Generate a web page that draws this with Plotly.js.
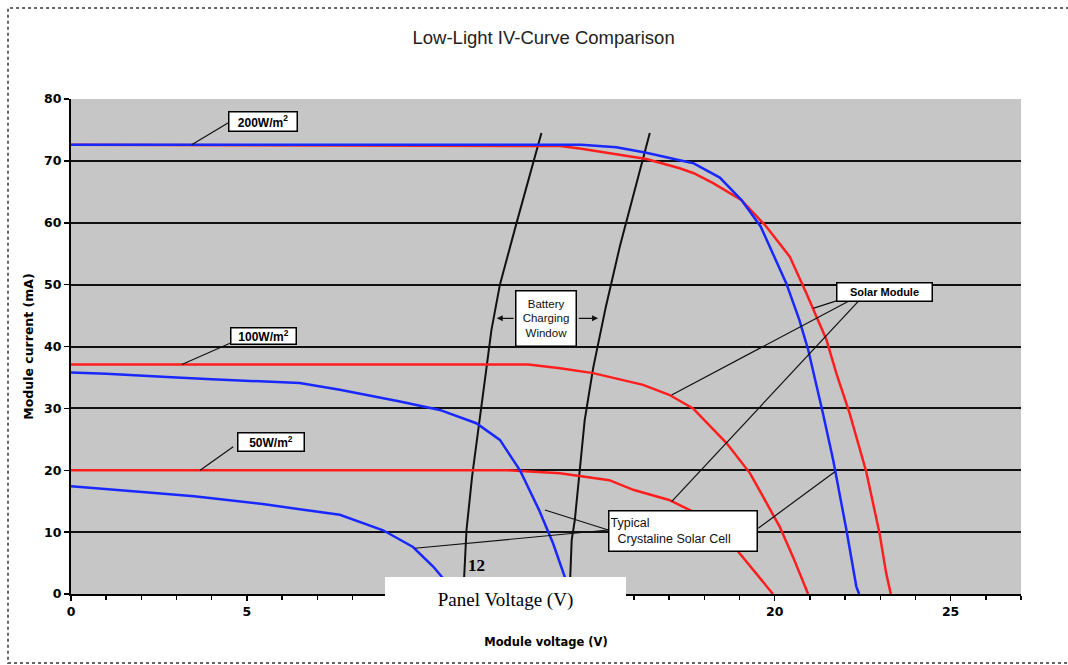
<!DOCTYPE html>
<html>
<head>
<meta charset="utf-8">
<script src="https://cdn.plot.ly/plotly-3.0.1.min.js"></script>
<style>html,body{margin:0;padding:0;background:#fff;}#chart{width:1068px;height:665px;}</style>
</head>
<body>
<div id="chart"></div>
<script>
// ---- Data ----
// Solar module (red) curves
const mod200X = [0, 13.9, 14.46, 15.4, 16.35, 17.3, 17.7, 18.25, 19.05, 19.76, 20.43, 20.9, 21.47, 21.75, 22.13, 22.6, 22.98, 23.17, 23.3];
const mod200Y = [72.6, 72.4, 72.0, 71.2, 70.3, 68.8, 68.0, 66.4, 63.7, 59.4, 54.5, 48.6, 41.1, 35.7, 29.2, 19.8, 9.8, 3.3, 0];
const mod100X = [0, 13.0, 13.9, 14.84, 16.26, 17.0, 17.68, 18.63, 19.3, 19.95, 20.14, 20.52, 20.95];
const mod100Y = [37.1, 37.1, 36.5, 35.7, 33.8, 32.2, 30.0, 24.4, 19.5, 13.0, 10.9, 6.0, 0];
const mod50X = [0, 12.4, 13.9, 15.3, 16.0, 17.0, 17.68, 18.25, 19.0, 19.95];
const mod50Y = [20.0, 20.0, 19.5, 18.4, 16.8, 15.2, 13.3, 12.0, 6.6, 0];
// Typical crystalline solar cell (blue) curves
const cell200X = [0, 14.5, 15.5, 16.35, 17.3, 17.7, 18.44, 19.05, 19.6, 19.95, 20.33, 20.7, 20.95, 21.37, 21.66, 22.04, 22.32, 22.4];
const cell200Y = [72.6, 72.6, 72.2, 71.3, 70.1, 69.6, 67.3, 63.7, 59.4, 55.1, 50.2, 44.3, 39.5, 29.2, 21.7, 10.3, 1.2, 0];
const cell100X = [0, 1, 3, 4, 6.5, 7.64, 9.35, 10.48, 11.52, 12.19, 12.76, 13.3, 13.7, 14.03, 14.12];
const cell100Y = [35.8, 35.6, 35.0, 34.7, 34.1, 33.0, 31.1, 29.75, 27.6, 24.9, 20.0, 13.6, 8.2, 2.8, 0];
const cell50X = [0, 1, 2.2, 3.5, 4.5, 5.5, 6.5, 7.64, 8.87, 9.72, 10.3, 10.58, 10.7];
const cell50Y = [17.4, 16.9, 16.4, 15.8, 15.2, 14.5, 13.7, 12.8, 10.3, 7.6, 4.4, 2.5, 0];
// Battery charging window boundaries
const winLowX = [13.37, 13.0, 12.66, 12.19, 11.95, 11.8, 11.57, 11.4, 11.24, 11.17, 11.15];
const winLowY = [74.5, 67, 59.9, 50, 42.7, 36.2, 26.5, 19, 10.3, 3, 0];
const winHighX = [16.45, 16.0, 15.6, 15.2, 14.84, 14.6, 14.46, 14.32, 14.23, 14.17];
const winHighY = [74.5, 65, 56.2, 46.4, 36.5, 28.1, 20, 12, 8.7, 0];
// Axis ticks
const xTicks = [0, 5, 10, 15, 20, 25];
const yTicks = [0, 10, 20, 30, 40, 50, 60, 70, 80];

const RED = 'rgb(255,30,30)';
const BLUE = 'rgb(25,40,255)';
const DARK = '#111';

function line(x, y, color, width) {
  return {x: x, y: y, type: 'scatter', mode: 'lines', hoverinfo: 'skip',
          line: {color: color, width: width}, showlegend: false};
}

const traces = [
  line(winLowX, winLowY, DARK, 2),
  line(winHighX, winHighY, DARK, 2),
  line(mod200X, mod200Y, RED, 2.5),
  line(mod100X, mod100Y, RED, 2.5),
  line(mod50X, mod50Y, RED, 2.5),
  line(cell200X, cell200Y, BLUE, 2.5),
  line(cell100X, cell100Y, BLUE, 2.5),
  line(cell50X, cell50Y, BLUE, 2.5)
];

const boxFont = {family: 'Arial, Liberation Sans, sans-serif', size: 12, color: '#000', weight: 'bold'};
function box(text, x, y, w, h, extra) {
  return Object.assign({text: text, x: x, y: y, xref: 'x', yref: 'y', showarrow: false,
    bgcolor: '#fff', bordercolor: '#000', borderwidth: 1.5, borderpad: 1,
    width: w, height: h, font: boxFont, xanchor: 'center', yanchor: 'middle'}, extra || {});
}
function arrow(tx, ty, hx, hy) {
  return {text: '', x: hx, y: hy, ax: tx, ay: ty, xref: 'x', yref: 'y', axref: 'x', ayref: 'y',
    showarrow: true, arrowhead: 2, arrowsize: 1, arrowwidth: 1.2, arrowcolor: '#111', standoff: 0, startstandoff: 0};
}
function leaderShape(tx, ty, hx, hy) {
  return {type: 'line', xref: 'x', yref: 'y', x0: tx, y0: ty, x1: hx, y1: hy,
          line: {color: '#111', width: 1.2}, layer: 'above'};
}

const annotations = [
  box('200W/m<sup>2</sup>', 5.456, 76.41, 65, 16),
  box('100W/m<sup>2</sup>', 5.47, 41.7, 62, 13),
  box('50W/m<sup>2</sup>', 5.68, 24.61, 63, 15),
  box('Battery<br>Charging<br>Window', 13.5, 44.56, 57, 52, {font: {family: 'Arial, sans-serif', size: 11.5, color: '#111'}}),
  arrow(12.62, 44.56, 12.1, 44.56),
  arrow(14.39, 44.56, 14.98, 44.56),
  box('Solar Module', 23.13, 48.73, 92, 15, {font: Object.assign({}, boxFont, {size: 11})}),
  box('Typical<br>  Crystaline Solar Cell', 17.4, 10.21, 145, 37, {align: 'left', font: {family: 'Arial, sans-serif', size: 12.5, color: '#111'}}),
  {text: '12', x: 11.52, y: 4.53, xref: 'x', yref: 'y', showarrow: false,
   font: {family: 'Liberation Serif, Times New Roman, serif', size: 17, color: '#000', weight: 'bold'}},
  {text: 'Panel Voltage (V)', x: 0.4574, y: -0.0121, xref: 'paper', yref: 'paper', showarrow: false,
   bgcolor: '#fff', borderpad: 0, borderwidth: 0, width: 241, height: 45,
   xanchor: 'center', yanchor: 'middle',
   font: {family: 'Liberation Serif, Times New Roman, serif', size: 19, color: '#000'}}
];

const tickFont = {family: 'DejaVu Sans, sans-serif', size: 12.5, color: '#000', weight: 'bold'};

const layout = {
  width: 1068, height: 665,
  margin: {l: 71, r: 47, t: 99, b: 71},
  paper_bgcolor: '#fff',
  plot_bgcolor: 'rgb(198,198,198)',
  showlegend: false,
  title: {text: 'Low-Light IV-Curve Comparison', x: 0.509, xref: 'container', y: 0.943, yref: 'container',
          xanchor: 'center', yanchor: 'middle',
          font: {family: 'Arial, sans-serif', size: 18.5, color: '#222'}},
  xaxis: {
    range: [0, 27], tickvals: xTicks, ticktext: xTicks.map(String),
    ticks: 'outside', ticklen: 5, tickwidth: 1.5, tickcolor: '#000',
    minor: {dtick: 1, ticks: 'outside', ticklen: 4, tickcolor: '#000', showgrid: false},
    showline: true, linecolor: '#000', linewidth: 2, showgrid: false, zeroline: false,
    tickfont: tickFont,
    title: {text: 'Module voltage (V)', standoff: 20,
            font: {family: 'DejaVu Sans, sans-serif', size: 11.5, color: '#000', weight: 'bold'}},
    fixedrange: true
  },
  yaxis: {
    range: [0, 80], tickvals: yTicks, ticktext: yTicks.map(String),
    ticks: 'outside', ticklen: 5, tickwidth: 1.5, tickcolor: '#000',
    showline: true, linecolor: '#000', linewidth: 2,
    showgrid: true, gridcolor: '#111', gridwidth: 2, zeroline: false,
    tickfont: tickFont,
    title: {text: 'Module current (mA)', standoff: 8,
            font: {family: 'DejaVu Sans, sans-serif', size: 12.5, color: '#000', weight: 'bold'}},
    fixedrange: true
  },
  shapes: [
    {type: 'rect', xref: 'paper', yref: 'paper', x0: -0.0663, x1: 1.06, y0: -0.1394, y1: 1.184,
     line: {color: '#666', width: 2, dash: 'dot'}, fillcolor: 'rgba(0,0,0,0)', layer: 'below'},
    leaderShape(4.46, 76.12, 3.43, 72.6),
    leaderShape(4.52, 40.52, 3.15, 37.1),
    leaderShape(4.61, 23.81, 3.67, 20.0),
    leaderShape(22.66, 49.02, 21.09, 46.17),
    leaderShape(22.66, 49.02, 17.07, 32.16),
    leaderShape(22.66, 49.02, 17.07, 14.92),
    leaderShape(15.27, 10.34, 13.47, 13.58),
    leaderShape(15.27, 10.34, 9.776, 7.39),
    leaderShape(19.53, 10.62, 21.71, 19.76)
  ],
  annotations: annotations
};

Plotly.newPlot('chart', traces, layout, {displayModeBar: false, staticPlot: true});
</script>
</body>
</html>
